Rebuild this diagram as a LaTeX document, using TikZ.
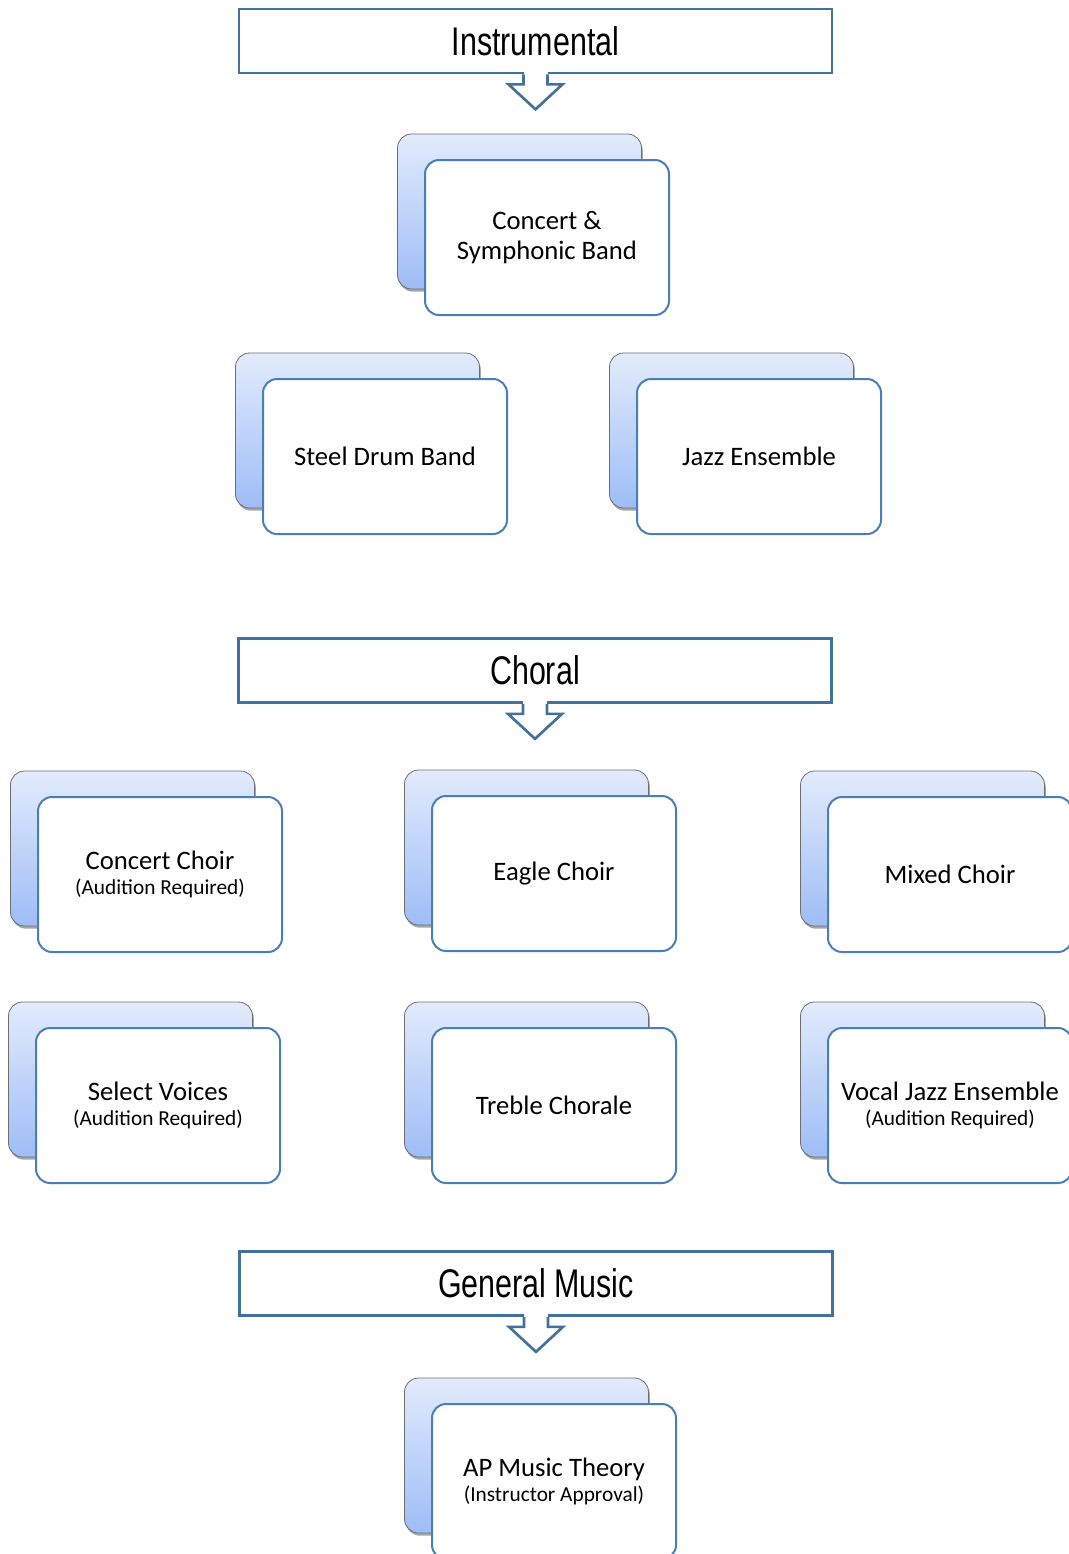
\documentclass[tikz,border=0pt]{standalone}
\usepackage{fontspec}
\setmainfont{Carlito}
\newfontfamily\headfont[FakeStretch=0.76]{Liberation Sans}
\usetikzlibrary{shadows}

\definecolor{headline}{RGB}{65,113,156}
\definecolor{cardline}{RGB}{74,126,187}
\definecolor{backtop}{RGB}{226,235,252}
\definecolor{backbot}{RGB}{158,189,246}
\definecolor{backline}{RGB}{110,110,110}

\newcommand\subline[1]{\\[-4pt]{\fontsize{16}{18}\selectfont #1}}

% one course: shaded card behind, white card in front carrying the title
\newcommand\coursecard[4]{%
  \node[backcard] (#1-back) at (#2-27.5,#3-26) {};
  \node[frontcard] (#1) at (#2,#3) {#4};
}

% section banner with the open arrow hanging from its lower edge
\newcommand\banner[4]{%
  \node[header] (#1) at (#2,#3) {#4};
  \begin{scope}[shift={(#1.south)}]
    \fill[white] (-12,-2.5) rectangle (12,10);
    \filldraw[headline, fill=white, line width=2pt, line join=miter]
      (-12,0) -- (-12,10) -- (-27,10) -- (0,35) -- (27,10) -- (12,10) -- (12,0);
  \end{scope}
}

\begin{document}
\begin{tikzpicture}[x=0.75pt,y=-0.75pt,
  header/.style={draw=headline, line width=2pt, fill=white,
    minimum width=444.75pt, minimum height=48pt, inner sep=0pt,
    font=\headfont\fontsize{30}{36}\selectfont},
  backcard/.style={draw=backline, line width=0.6pt, rounded corners=10.5pt,
    top color=backtop, bottom color=backbot,
    minimum width=183pt, minimum height=116.25pt, inner sep=0pt,
    drop shadow={shadow xshift=1pt, shadow yshift=-2pt, opacity=0.35, fill=black}},
  frontcard/.style={draw=cardline, line width=1.5pt, rounded corners=10.5pt,
    fill=white, minimum width=183pt, minimum height=116.25pt, inner sep=0pt,
    align=center, font=\fontsize{20}{22.5}\selectfont}]

\useasboundingbox (0,0) rectangle (1069,1554);
\clip (0,0) rectangle (1069,1554);

% Instrumental
\banner{instr}{535.5}{41}{Instrumental}
\coursecard{band}{547}{237.5}{Concert \&\\Symphonic Band}
\coursecard{steel}{385}{456.5}{Steel Drum Band}
\coursecard{jazz}{759}{456.5}{Jazz Ensemble}

% Choral
\banner{choral}{535}{670.5}{Choral}
\coursecard{cchoir}{160}{874.5}{Concert Choir\subline{(Audition Required)}}
\coursecard{eagle}{554}{873.5}{Eagle Choir}
\coursecard{mixed}{950}{874.5}{Mixed Choir}
\coursecard{select}{158}{1105.5}{Select Voices\subline{(Audition Required)}}
\coursecard{treble}{554}{1105.5}{Treble Chorale}
\coursecard{vjazz}{950}{1105.5}{Vocal Jazz Ensemble\subline{(Audition Required)}}

% General Music
\banner{general}{536}{1283.5}{General Music}
\coursecard{theory}{554}{1481.5}{AP Music Theory\subline{(Instructor Approval)}}

\end{tikzpicture}
\end{document}
